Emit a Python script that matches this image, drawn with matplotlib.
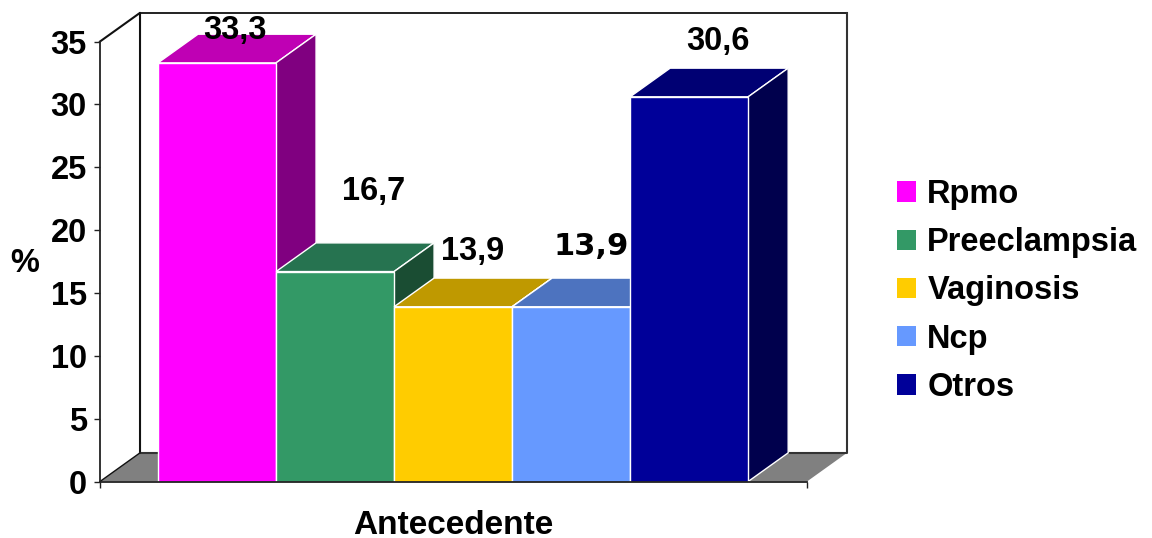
import matplotlib
matplotlib.use("Agg")
import matplotlib.pyplot as plt
from matplotlib.patches import Patch, Polygon

plt.rcParams['font.family'] = ['Liberation Sans', 'DejaVu Sans']
plt.rcParams['font.weight'] = 'bold'

categories = ["Rpmo", "Preeclampsia", "Vaginosis", "Ncp", "Otros"]
values = [33.3, 16.7, 13.9, 13.9, 30.6]
value_labels = ["33,3", "16,7", "13,9", "13,9", "30,6"]
front_colors = ["#FF00FF", "#339966", "#FFCC00", "#6699FF", "#000099"]
top_colors = ["#BF00B4", "#267350", "#BF9900", "#4D73BF", "#000073"]
side_colors = ["#800080", "#1A4D33", "#806600", "#334D80", "#00004D"]
yticks = [0, 5, 10, 15, 20, 25, 30, 35]

# depth of the fake 3D box, in data units
xmax = 5.99
dx = 0.339
dy = 2.28
bar_start = 0.4915

# hand placed value labels
label_x = [1.146, 2.318, 3.157, 4.165, 5.235]
label_y = [35.9, 23.1, 18.3, 18.7, 35.03]
label_families = ['Liberation Sans', 'Liberation Sans', 'Liberation Sans', 'DejaVu Sans', 'Liberation Sans']
label_sizes = [23.5, 23.5, 23.5, 22, 23.5]


def parallelogram(ax, pts, color, edge='white', z=2):
    ax.add_patch(Polygon(pts, closed=True, facecolor=color, edgecolor=edge,
                         linewidth=1, zorder=z, clip_on=False, joinstyle='miter'))


fig = plt.figure(figsize=(11.52, 5.38), dpi=100)
ax = fig.add_axes([100 / 1152, 1 - 481.5 / 538, 707 / 1152, 440 / 538])
ax.set_xlim(0, xmax)
ax.set_ylim(0, 35)

for spine in ['top', 'right']:
    ax.spines[spine].set_visible(False)
for spine in ['left', 'bottom']:
    ax.spines[spine].set_linewidth(1.3)
    ax.spines[spine].set_color('#222222')

# floor and walls
parallelogram(ax, [(0, 0), (dx, dy), (xmax + dx, dy), (xmax, 0)], '#808080', edge='none', z=1)
ax.plot([0, dx, dx], [35, 35 + dy, dy], color='#111111', lw=1.5, clip_on=False, zorder=1.5)
ax.plot([dx, xmax + dx], [35 + dy, 35 + dy], color='#111111', lw=1.3, clip_on=False, zorder=1.5)
ax.plot([dx, xmax + dx, xmax + dx], [dy, dy, 35 + dy], color='#333333', lw=1.5, clip_on=False, zorder=1.5)
ax.plot([0, dx], [0, dy], color='#111111', lw=1, clip_on=False, zorder=1.5)

# bars, left to right so each one hides the side of the previous
for i, val in enumerate(values):
    x0 = bar_start + i
    x1 = x0 + 1
    ax.bar(x0, val, width=1, align='edge', color=front_colors[i], edgecolor='white',
           linewidth=1, zorder=2 + i * 0.1 + 0.02)
    parallelogram(ax, [(x0, val), (x0 + dx, val + dy), (x1 + dx, val + dy), (x1, val)],
                  top_colors[i], z=2 + i * 0.1)
    parallelogram(ax, [(x1, 0), (x1 + dx, dy), (x1 + dx, val + dy), (x1, val)],
                  side_colors[i], z=2 + i * 0.1)

for i, lab in enumerate(value_labels):
    ax.text(label_x[i], label_y[i], lab, ha='center', va='center', zorder=5,
            fontsize=label_sizes[i], fontweight='bold', family=label_families[i], clip_on=False)

ax.set_yticks(yticks)
ax.set_yticklabels([str(t) for t in yticks], fontsize=23.5, fontweight='bold')
ax.set_xticks([0, xmax])
ax.set_xticklabels(['', ''])
ax.tick_params(axis='y', length=4.5, width=1, pad=5, color='#222222')
ax.tick_params(axis='x', length=4.5, width=1, color='#222222')

ax.set_xlabel('Antecedente', fontsize=24, fontweight='bold')
ax.xaxis.set_label_coords(353 / 707, -28 / 440)
ax.text(-0.635, 17.35, '%', fontsize=23.5, fontweight='bold', ha='center', va='center', clip_on=False)

handles = [Patch(facecolor=c, edgecolor='none') for c in front_colors]
fig.legend(handles, categories, loc='center left', bbox_to_anchor=(881 / 1152, 1 - 291 / 538),
           frameon=False, fontsize=23.5, handlelength=0.58, handleheight=0.58, handletextpad=0.34,
           labelspacing=0.53, borderpad=0, borderaxespad=0.5)

plt.savefig("out.png", dpi=100)
